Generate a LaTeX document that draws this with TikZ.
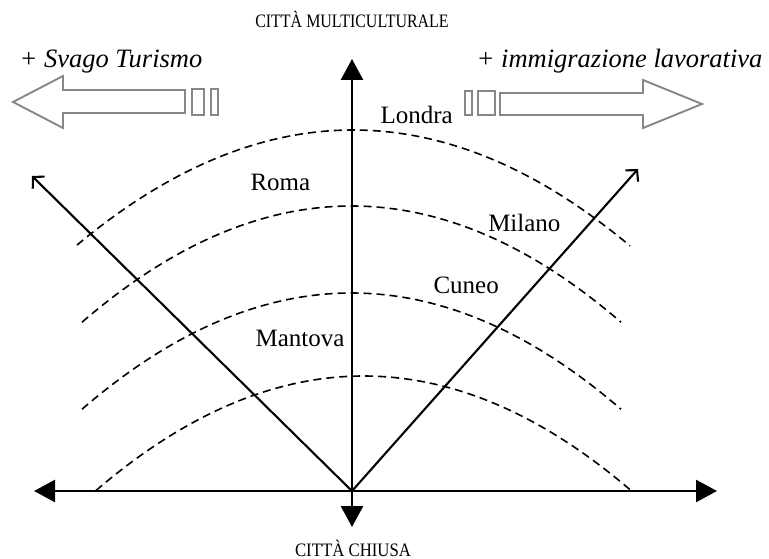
\documentclass[tikz,border=0pt]{standalone}
\usepackage{fontspec}
\setmainfont{Liberation Serif}
\usetikzlibrary{arrows.meta}
\definecolor{arrgray}{RGB}{135,135,135}
\begin{document}
\begin{tikzpicture}[x=1pt,y=-1pt,
  axis/.style={line width=2.5pt,-{Triangle[length=21pt,width=22pt]}},
  diag/.style={line width=2.1pt,-{Straight Barb[length=8pt,width=17pt,line width=2.1pt]}},
  wave/.style={line width=1.6pt,dash pattern=on 8pt off 5pt},
  hollow/.style={draw=arrgray,line width=1.9pt,line join=miter},
  title/.style={font=\fontsize{19}{22}\selectfont,anchor=base,xscale=0.84},
  city/.style={font=\fontsize{25}{30}\selectfont,anchor=base west},
  flow/.style={font=\fontsize{26.5}{31}\selectfont\itshape,anchor=base}]
\useasboundingbox (0,0) rectangle (769,559);
% reference points
\coordinate (O) at (352,491);
\coordinate (up) at (352,59);
\coordinate (down) at (352,527);
\coordinate (left) at (34,491);
\coordinate (right) at (717,491);
\coordinate (nw) at (32,176);
\coordinate (ne) at (638,169);
% dashed curves
\draw[wave] plot[domain=77:630,samples=80] (\x,{130+15.1*((\x-353)/100)^2});
\draw[wave] plot[domain=82:621,samples=80] (\x,{206+16*((\x-351.5)/100)^2});
\draw[wave] plot[domain=82:621,samples=80] (\x,{293+16*((\x-351.5)/100)^2});
\draw[wave] plot[domain=96:631,samples=80] (\x,{376+16*((\x-363.5)/100)^2});
% axes
\draw[axis] (O) -- (up);
\draw[axis] (O) -- (down);
\draw[axis] (O) -- (left);
\draw[axis] (O) -- (right);
\draw[diag] (O) -- (nw);
\draw[diag] (O) -- (ne);
% hollow arrows
\draw[hollow] (13,102) -- (63,76) -- (63,90) -- (185,90) -- (185,113) -- (63,113) -- (63,128) -- cycle;
\draw[hollow] (192,89) rectangle (204,115);
\draw[hollow] (211,89) rectangle (218,115);
\draw[hollow] (702,104) -- (643,80) -- (643,93) -- (500,93) -- (500,115) -- (643,115) -- (643,128) -- cycle;
\draw[hollow] (465,91) rectangle (472,115);
\draw[hollow] (478,91) rectangle (495,115);
% texts
\node[title] (multi) at (352,28) {CITTÀ MULTICULTURALE};
\node[title,xscale=1.05] (chiusa) at (353,556) {CITTÀ CHIUSA};
\node[flow,anchor=base west] (svago) at (16,68) {+ Svago Turismo};
\node[flow,anchor=base east] (immig) at (766,68) {+ immigrazione lavorativa};
\node[city] (londra) at (377,124) {Londra};
\node[city] (roma) at (247,191) {Roma};
\node[city,anchor=base east] (milano) at (564,232) {Milano};
\node[city] (cuneo) at (430,293) {Cuneo};
\node[city,anchor=base east] (mantova) at (348,346) {Mantova};
\end{tikzpicture}
\end{document}
